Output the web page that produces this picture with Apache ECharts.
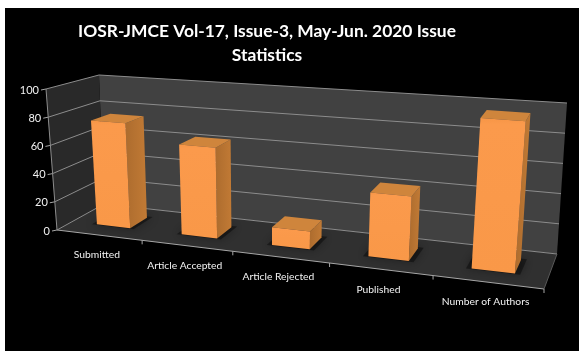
<!DOCTYPE html>
<html>
<head>
<meta charset="utf-8">
<title>IOSR-JMCE Issue Statistics</title>
<script src="https://cdn.jsdelivr.net/npm/echarts@6/dist/echarts.min.js"></script>
<style>
  html, body { margin: 0; padding: 0; background: #fff; }
  #myChart { width: 584px; height: 357px; }
</style>
</head>
<body>
<div id="myChart"></div>
<script>
var categories = ['Submitted', 'Article Accepted', 'Article Rejected', 'Published', 'Number of Authors']
var values = [75, 63, 12, 42, 96]
var yTicks = [0, 20, 40, 60, 80, 100]

// corners of the 3D box on screen, f = front, b = back, l/r = left/right, 0 = floor, 1 = top
var box = {
  fl0: [57, 230], fr0: [544, 289], fl1: [46, 89], fr1: [558, 124],
  bl0: [104, 204], br0: [557, 254], bl1: [99, 75], br1: [567, 103]
}
var grid = { left: 57, top: 89, width: 487, height: 141 }
var barFrac = 0.4
var depthFrom = 0.33
var depthTo = 0.72
var font = '10.3px Lato, sans-serif'

function lerp (a, b, t) {
  return [a[0] + (b[0] - a[0]) * t, a[1] + (b[1] - a[1]) * t]
}

// plot position (px, py) + depth -> screen, far categories get squeezed a bit
function project (px, py, d) {
  var u = (px - grid.left) / grid.width
  var v = (grid.top + grid.height - py) / grid.height
  var t = u / (u + 1.18 * (1 - u))
  var front = lerp(lerp(box.fl0, box.fr0, t), lerp(box.fl1, box.fr1, t), v)
  var back = lerp(lerp(box.bl0, box.br0, t), lerp(box.bl1, box.br1, t), v)
  return lerp(front, back, d)
}

function poly (points, fill, extra) {
  var style = { fill: fill }
  for (var k in extra) style[k] = extra[k]
  return { type: 'polygon', shape: { points: points }, style: style }
}

function line (a, b, color) {
  return {
    type: 'line',
    shape: { x1: a[0], y1: a[1], x2: b[0], y2: b[1] },
    style: { stroke: color, lineWidth: 1 }
  }
}

function renderWalls (params) {
  var g = params.coordSys
  var x0 = g.x
  var x1 = g.x + g.width
  var y0 = g.y + g.height
  var y1 = g.y
  return {
    type: 'group',
    children: [
      poly([project(x0, y0, 1), project(x1, y0, 1), project(x1, y1, 1), project(x0, y1, 1)], '#414141'),
      poly([project(x0, y0, 0), project(x0, y0, 1), project(x0, y1, 1), project(x0, y1, 0)], '#292929'),
      poly([project(x0, y0, 0), project(x1, y0, 0), project(x1, y0, 1), project(x0, y0, 1)], '#303030')
    ]
  }
}

function renderTick (params, api) {
  var p = api.coord([0, api.value(0)])
  var x0 = params.coordSys.x
  var x1 = x0 + params.coordSys.width
  var a = project(x0, p[1], 0)
  var b = project(x0, p[1], 1)
  var c = project(x1, p[1], 1)
  return {
    type: 'group',
    children: [
      line(a, b, '#8c8c8c'),
      line(b, c, '#8c8c8c'),
      line([a[0] - 5, a[1] + 1], a, '#a6a6a6'),
      {
        type: 'text',
        style: {
          text: String(api.value(0)),
          x: a[0] - 7,
          y: a[1] + 1,
          fill: '#f2f2f2',
          font: '11px Lato, sans-serif',
          align: 'right',
          verticalAlign: 'middle'
        }
      }
    ]
  }
}

function renderEdge (params) {
  var g = params.coordSys
  var y0 = g.y + g.height
  return {
    type: 'group',
    children: [
      line(project(g.x, y0, 0), project(g.x + g.width, y0, 0), '#a6a6a6'),
      line(project(g.x, y0, 0), project(g.x, g.y, 0), '#8c8c8c'),
      line(project(g.x + g.width, y0, 0), project(g.x + g.width, y0, 1), '#595959')
    ]
  }
}

function renderCategory (params, api) {
  var i = api.value(0)
  var c = api.coord([i, 0])
  var band = api.size([1, 0])[0]
  var mid = project(c[0], c[1], 0)
  var tick = project(c[0] + band / 2, c[1], 0)
  return {
    type: 'group',
    children: [
      line(tick, [tick[0], tick[1] + 4], '#a6a6a6'),
      {
        type: 'text',
        style: {
          text: categories[i],
          x: mid[0] - 2,
          y: mid[1] + 20,
          fill: '#f2f2f2',
          font: font,
          align: 'center',
          verticalAlign: 'middle'
        }
      }
    ]
  }
}

function renderBar (params, api) {
  var i = api.value(0)
  var base = api.coord([i, 0])
  var top = api.coord([i, api.value(1)])
  var band = api.size([1, 0])[0]
  var xa = base[0] - band * barFrac / 2
  var xb = base[0] + band * barFrac / 2
  var y0 = base[1]
  var y1 = top[1]
  var f0 = project(xa, y0, depthFrom)
  var f1 = project(xb, y0, depthFrom)
  var f2 = project(xb, y1, depthFrom)
  var f3 = project(xa, y1, depthFrom)
  var b0 = project(xa, y0, depthTo)
  var b1 = project(xb, y0, depthTo)
  var b2 = project(xb, y1, depthTo)
  var b3 = project(xa, y1, depthTo)
  // soft dark patch on the floor, a bit wider than the bar
  var pad = band * 0.05
  var s0 = project(xa - pad, y0, depthFrom - 0.02)
  var s1 = project(xb + pad, y0, depthFrom - 0.02)
  var s2 = project(xb + pad, y0, depthTo + 0.04)
  var s3 = project(xa - pad, y0, depthTo + 0.04)
  return {
    type: 'group',
    children: [
      poly([s0, s1, s2, s3], 'rgba(0,0,0,0.4)', { shadowBlur: 10, shadowColor: 'rgba(0,0,0,0.8)' }),
      poly([f1, b1, b2, f2], {
        type: 'linear', x: 0, y: 0, x2: 1, y2: 0,
        colorStops: [{ offset: 0, color: '#ad6c2e' }, { offset: 1, color: '#c17a35' }]
      }),
      poly([f3, f2, b2, b3], '#cf853c'),
      poly([f0, f1, f2, f3], {
        type: 'linear', x: 0, y: 0, x2: 0, y2: 1,
        colorStops: [{ offset: 0, color: '#f79646' }, { offset: 0.04, color: '#fb9a4c' }, { offset: 1, color: '#f99848' }]
      })
    ]
  }
}

var myChart = echarts.init(document.getElementById('myChart'))
myChart.setOption({
  animation: false,
  backgroundColor: '#fff',
  graphic: [{
    type: 'rect',
    z: -1,
    shape: { x: 5, y: 8, width: 574, height: 343 },
    style: { fill: '#000' }
  }],
  title: {
    text: 'IOSR-JMCE Vol-17, Issue-3, May-Jun. 2020 Issue\nStatistics',
    left: 262,
    top: 14,
    textAlign: 'center',
    textStyle: {
      color: '#fff',
      fontFamily: 'Lato, sans-serif',
      fontWeight: 'bold',
      fontSize: 17.4,
      lineHeight: 24
    }
  },
  grid: grid,
  xAxis: { type: 'category', data: categories, show: false },
  yAxis: { type: 'value', min: 0, max: 100, interval: 20, show: false },
  series: [
    { type: 'custom', silent: true, renderItem: renderWalls, data: [[0]] },
    {
      type: 'custom',
      silent: true,
      renderItem: renderTick,
      encode: { y: 0 },
      data: yTicks.map(function (t) { return [t] })
    },
    { type: 'custom', silent: true, renderItem: renderEdge, data: [[0]] },
    {
      type: 'custom',
      silent: true,
      renderItem: renderCategory,
      data: categories.map(function (c, i) { return [i] })
    },
    {
      type: 'custom',
      name: 'Statistics',
      silent: true,
      renderItem: renderBar,
      data: values.map(function (v, i) { return [i, v] })
    }
  ]
})
</script>
</body>
</html>
